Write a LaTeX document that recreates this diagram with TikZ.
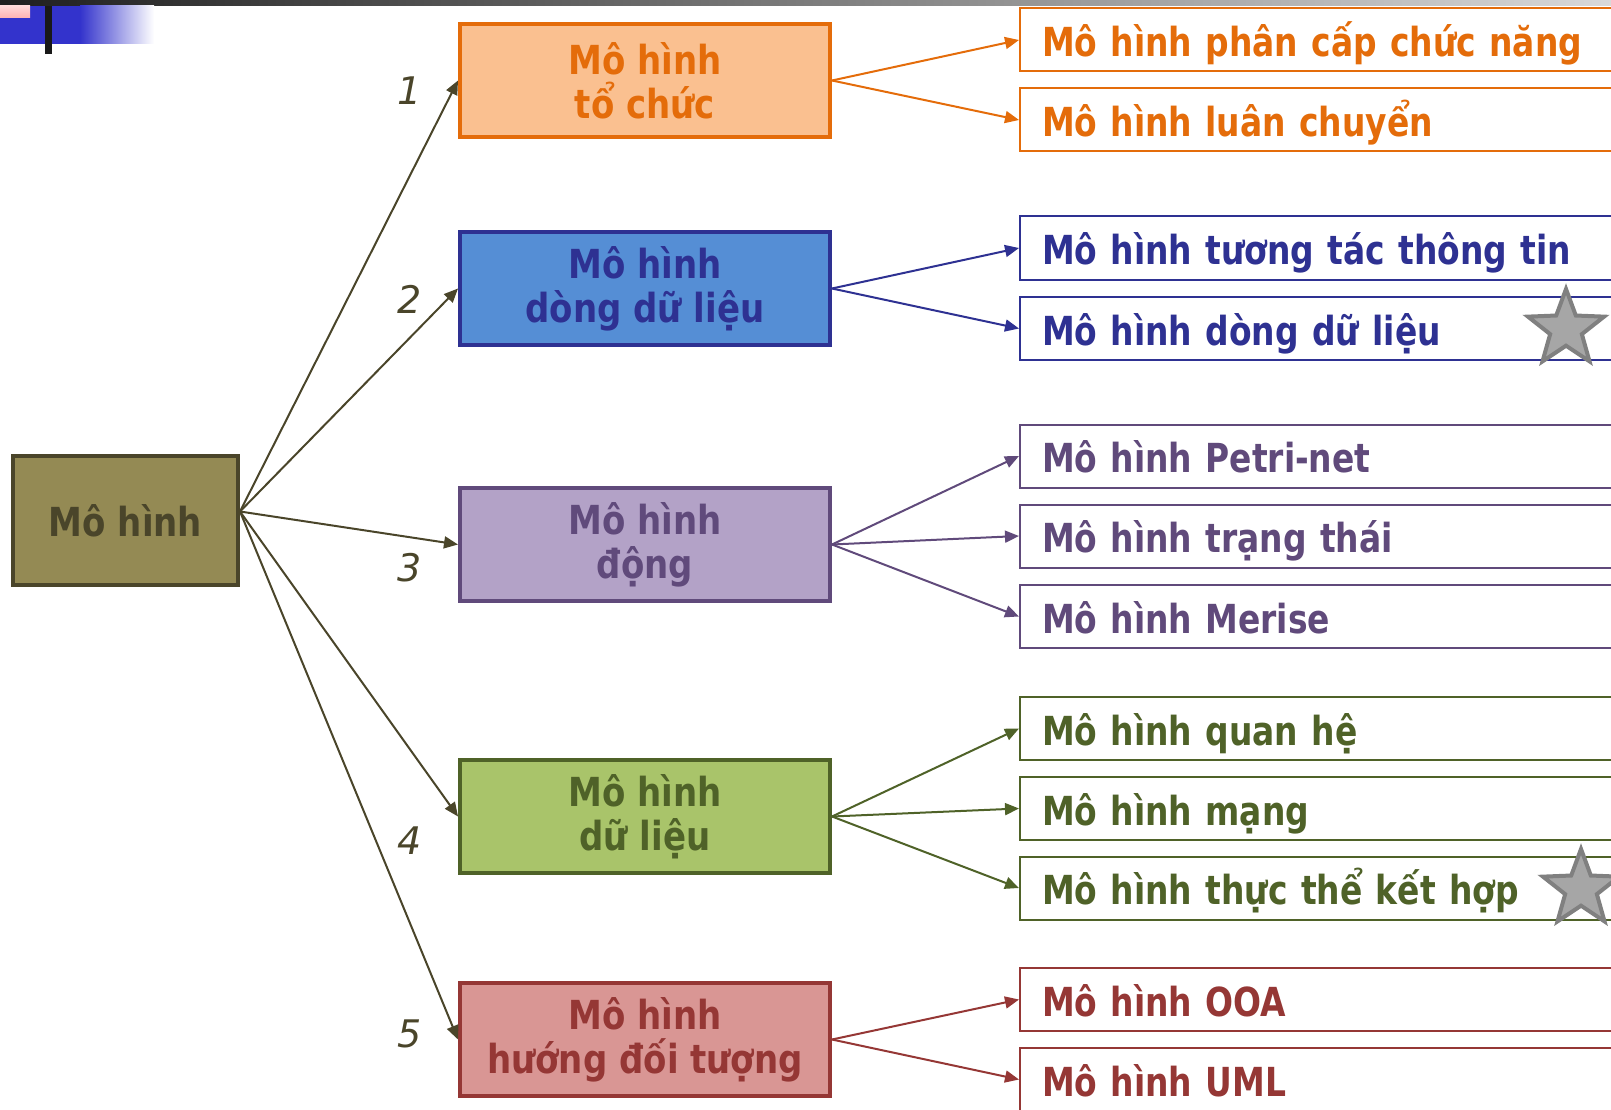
\documentclass[tikz,border=0pt]{standalone}
\usepackage{fontspec}
\setmainfont{DejaVu Sans}
\newfontfamily\boxfont[FakeStretch=0.85]{DejaVu Sans}
\newfontfamily\leaffont[FakeStretch=0.823]{DejaVu Sans}
\newfontfamily\numfont{DejaVu Sans}
\usetikzlibrary{arrows.meta,shapes.geometric}

% palette
\definecolor{rootfill}{HTML}{948A54}
\definecolor{rootline}{HTML}{4A452A}
\definecolor{orgfill}{HTML}{FAC090}
\definecolor{orgline}{HTML}{E46C0A}
\definecolor{flowfill}{HTML}{558ED5}
\definecolor{flowline}{HTML}{2E3192}
\definecolor{dynfill}{HTML}{B3A2C7}
\definecolor{dynline}{HTML}{604A7B}
\definecolor{datafill}{HTML}{A9C46A}
\definecolor{dataline}{HTML}{4F6228}
\definecolor{oofill}{HTML}{D99694}
\definecolor{ooline}{HTML}{953735}
\definecolor{stargray}{HTML}{A6A6A6}
\definecolor{staredge}{HTML}{808080}
\definecolor{bandblue}{HTML}{3333CC}

\tikzset{
  mainbox/.style n args={2}{draw=#2, fill=#1, text=#2, line width=4pt,
    minimum width=370pt, minimum height=113pt, align=center,
    font=\boxfont\bfseries\fontsize{40}{44}\selectfont},
  rootbox/.style={draw=rootline, fill=rootfill, text=rootline, line width=4pt,
    minimum width=225pt, minimum height=129pt,
    font=\boxfont\bfseries\fontsize{40}{44}\selectfont},
  leafbox/.style={draw=#1, fill=white, text=#1, line width=2pt,
    minimum height=63pt, inner xsep=22pt, text width=576pt, align=left,
    text height=40pt, text depth=7pt,
    font=\leaffont\bfseries\fontsize{40}{44}\selectfont},
  link/.style={draw=#1, line width=2pt, -{Triangle[length=14pt,width=12pt]}},
  numlabel/.style={text=rootline, font=\numfont\itshape\fontsize{38}{40}\selectfont},
  badge/.style={star, star points=5, star point ratio=2.4, draw=staredge,
    fill=stargray, line width=4pt, minimum size=80pt, inner sep=0pt}
}

\begin{document}
\begin{tikzpicture}[x=1pt,y=-1pt]
\useasboundingbox (0,0) rectangle (1611,1110);
\clip (0,0) rectangle (1611,1110);

% title bar ornaments
\shade[left color=black!88, right color=black!15] (0,0) rectangle (1611,6);
\fill[bandblue] (0,6) rectangle (80,44);
\shade[left color=bandblue, right color=white] (80,6) rectangle (154,44);
\shade[top color=red!15, bottom color=red!30] (0,6) rectangle (30,18);
\fill[black!90] (45,6) rectangle (52,54);

% root
\node[rootbox] (root) at (125.5,520.5) {Mô hình};
\coordinate (hub) at ([yshift=9pt]root.east);

% second level
\node[mainbox={orgfill}{orgline}]   (org)  at (645,80.5)   {Mô hình\\tổ chức};
\node[mainbox={flowfill}{flowline}] (flow) at (645,288.5)  {Mô hình\\dòng dữ liệu};
\node[mainbox={dynfill}{dynline}]   (dyn)  at (645,544.5)  {Mô hình\\động};
\node[mainbox={datafill}{dataline}] (data) at (645,816.5)  {Mô hình\\dữ liệu};
\node[mainbox={oofill}{ooline}]     (oo)   at (645,1039.5) {Mô hình\\hướng đối tượng};

% leaves
\node[leafbox=orgline]  (l1)  at (1330,40)     {Mô hình phân cấp chức năng};
\node[leafbox=orgline]  (l2)  at (1330,120)    {Mô hình luân chuyển};
\node[leafbox=flowline] (l3)  at (1330,248)    {Mô hình tương tác thông tin};
\node[leafbox=flowline] (l4)  at (1330,328.5)  {Mô hình dòng dữ liệu};
\node[leafbox=dynline]  (l5)  at (1330,456)    {Mô hình Petri-net};
\node[leafbox=dynline]  (l6)  at (1330,536)    {Mô hình trạng thái};
\node[leafbox=dynline]  (l7)  at (1330,616.5)  {Mô hình Merise};
\node[leafbox=dataline] (l8)  at (1330,728.5)  {Mô hình quan hệ};
\node[leafbox=dataline] (l9)  at (1330,808.5)  {Mô hình mạng};
\node[leafbox=dataline] (l10) at (1330,888)    {Mô hình thực thể kết hợp};
\node[leafbox=ooline]   (l11) at (1330,999.5)  {Mô hình OOA};
\node[leafbox=ooline]   (l12) at (1330,1079.5) {Mô hình UML};

% root connectors
\draw[link=rootline] (hub) -- (org.west);
\draw[link=rootline] (hub) -- (flow.west);
\draw[link=rootline] (hub) -- (dyn.west);
\draw[link=rootline] (hub) -- (data.west);
\draw[link=rootline] (hub) -- (oo.west);

% branch connectors
\draw[link=orgline]  (org.east) -- (l1.west);
\draw[link=orgline]  (org.east) -- (l2.west);
\draw[link=flowline] (flow.east) -- (l3.west);
\draw[link=flowline] (flow.east) -- (l4.west);
\draw[link=dynline]  (dyn.east) -- (l5.west);
\draw[link=dynline]  (dyn.east) -- (l6.west);
\draw[link=dynline]  (dyn.east) -- (l7.west);
\draw[link=dataline] (data.east) -- (l8.west);
\draw[link=dataline] (data.east) -- (l9.west);
\draw[link=dataline] (data.east) -- (l10.west);
\draw[link=ooline]   (oo.east) -- (l11.west);
\draw[link=ooline]   (oo.east) -- (l12.west);

% branch numbers
\node[numlabel] (n1) at (410,91)   {1};
\node[numlabel] (n2) at (410,299)  {2};
\node[numlabel] (n3) at (410,568)  {3};
\node[numlabel] (n4) at (410,841)  {4};
\node[numlabel] (n5) at (410,1034) {5};

% highlight stars
\node[badge] (s1) at (1566,329) {};
\node[badge] (s2) at (1581,889) {};
\end{tikzpicture}
\end{document}
